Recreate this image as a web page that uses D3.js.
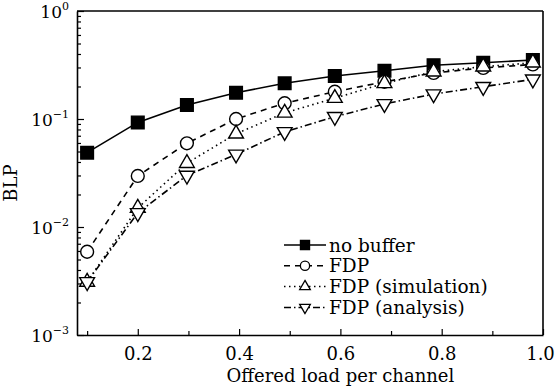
<!DOCTYPE html>
<html>
<head>
<meta charset="utf-8">
<script src="https://cdn.jsdelivr.net/npm/d3@7"></script>
<style>
  body { margin: 0; background: #fff; }
  text { font-family: "DejaVu Serif", serif; fill: #000; }
</style>
</head>
<body>
<div id="chart"></div>
<script>
// offered load per channel (x) and BLP values
var loadX = [0.1, 0.2, 0.297, 0.394, 0.49, 0.589, 0.687, 0.784, 0.882, 0.98];
var noBuffer = [0.0488, 0.093, 0.135, 0.175, 0.214, 0.25, 0.28, 0.315, 0.332, 0.352];
var fdp = [0.0059, 0.0297, 0.0596, 0.1, 0.14, 0.179, 0.221, 0.267, 0.297, 0.32];
var fdpSim = [0.0031, 0.015, 0.039, 0.073, 0.114, 0.156, 0.214, 0.274, 0.305, 0.332];
var fdpAna = [0.0031, 0.0135, 0.030, 0.047, 0.076, 0.105, 0.138, 0.17, 0.199, 0.233];

var xMajor = [0.2, 0.4, 0.6, 0.8, 1.0];
var xMinor = [0.1, 0.3, 0.5, 0.7, 0.9];
var yDecades = [1e-3, 1e-2, 1e-1, 1];
var yExp = ["\u22123", "\u22122", "\u22121", "0"];

var seriesNames = ["no buffer", "FDP", "FDP (simulation)", "FDP (analysis)"];

var series = [
  {name: seriesNames[0], values: noBuffer, dash: null, symbol: "square"},
  {name: seriesNames[1], values: fdp, dash: "6,5", symbol: "circle"},
  {name: seriesNames[2], values: fdpSim, dash: "1.5,3.5", symbol: "up"},
  {name: seriesNames[3], values: fdpAna, dash: "7,3,1.5,3", symbol: "down"}
];

var width = 556, height = 390;
var margin = {top: 11, right: 13, bottom: 55, left: 77};
var innerW = width - margin.left - margin.right,
    innerH = height - margin.top - margin.bottom;

var svg = d3.select("#chart").append("svg")
    .attr("width", width)
    .attr("height", height)
  .append("g")
    .attr("transform", "translate(" + margin.left + "," + margin.top + ")");

var xScale = d3.scaleLinear().domain([0.08, 1.0]).range([0, innerW]);
var yScale = d3.scaleLog().domain([1e-3, 1]).range([innerH, 0]);

// marker shapes
function markerPath(type, big) {
  var s = big ? 1 : 0.72;
  if (type === "square") return d3.symbol(d3.symbolSquare, 160 * s * s)();
  if (type === "circle") return d3.symbol(d3.symbolCircle, 130 * s * s)();
  return d3.symbol(d3.symbolTriangle, 95 * s * s)();
}
function markerRot(type) { return type === "down" ? " rotate(180)" : ""; }

// x axis (ticks inside)
svg.append("g")
    .attr("transform", "translate(0," + innerH + ")")
    .call(d3.axisBottom(xScale).tickValues(xMinor).tickSize(-4).tickFormat(""))
    .call(function(g) { g.select(".domain").remove(); });
var xAxis = svg.append("g")
    .attr("transform", "translate(0," + innerH + ")")
    .call(d3.axisBottom(xScale).tickValues(xMajor).tickSize(-6).tickSizeOuter(0)
      .tickFormat(d3.format(".1f")).tickPadding(12));
xAxis.selectAll("text").style("font-family", "DejaVu Serif").attr("font-size", 18)
    .attr("dx", function(d) { return d === 1.0 ? -3 : 0; });

// y axis (ticks inside)
var yMinorVals = yScale.ticks().filter(function(d) { return yDecades.indexOf(d) < 0; });
svg.append("g")
    .call(d3.axisLeft(yScale).tickValues(yMinorVals).tickSize(-4).tickFormat(""))
    .call(function(g) { g.select(".domain").remove(); });
svg.append("g")
    .call(d3.axisLeft(yScale).tickValues(yDecades).tickSize(-7).tickSizeOuter(0).tickFormat(""));

svg.selectAll(".domain").attr("stroke-width", 1.6);
svg.selectAll(".tick line").attr("stroke-width", 1.2);

// y tick labels like 10^-1
var yLab = svg.append("g").selectAll("text")
    .data(yDecades)
  .enter().append("text")
    .attr("x", -8)
    .attr("y", function(d) { return yScale(d) + 7; })
    .attr("text-anchor", "end")
    .attr("font-size", 17);
yLab.append("tspan").text("10");
yLab.append("tspan").attr("dy", -8).attr("font-size", 11)
    .text(function(d, i) { return yExp[i]; });

// frame top and right
svg.append("line").attr("x1", 0).attr("x2", innerW).attr("y1", 0).attr("y2", 0)
    .attr("stroke", "#000").attr("stroke-width", 1.6);
svg.append("line").attr("x1", innerW).attr("x2", innerW).attr("y1", 0).attr("y2", innerH)
    .attr("stroke", "#000").attr("stroke-width", 1.6);

// axis titles
svg.append("text")
    .attr("x", xScale(0.6))
    .attr("y", innerH + 47)
    .attr("text-anchor", "middle")
    .attr("font-size", 18)
    .text("Offered load per channel");
svg.append("text")
    .attr("transform", "translate(" + (-60) + "," + (innerH / 2 + 10) + ") rotate(-90)")
    .attr("text-anchor", "middle")
    .attr("font-size", 18)
    .text("BLP");

// lines
var valueline = d3.line()
    .x(function(d, i) { return xScale(loadX[i]); })
    .y(function(d) { return yScale(d); });

series.forEach(function(s) {
  svg.append("path")
      .attr("d", valueline(s.values))
      .attr("fill", "none")
      .attr("stroke", "#000")
      .attr("stroke-width", 1.6)
      .attr("stroke-dasharray", s.dash);
});

// markers, drawn after all lines
series.forEach(function(s) {
  svg.append("g").selectAll("path")
      .data(s.values)
    .enter().append("path")
      .attr("transform", function(d, i) {
        return "translate(" + xScale(loadX[i]) + "," + yScale(d) + ")" + markerRot(s.symbol);
      })
      .attr("d", markerPath(s.symbol, true))
      .attr("fill", s.symbol === "square" ? "#000" : "#fff")
      .attr("stroke", "#000")
      .attr("stroke-width", 1.4);
});

// legend
var legend = svg.append("g")
    .attr("transform", "translate(" + (284 - margin.left) + "," + (245 - margin.top) + ")");
var rows = legend.selectAll("g")
    .data(series)
  .enter().append("g")
    .attr("transform", function(d, i) { return "translate(0," + (i * 20.8) + ")"; });
rows.append("line")
    .attr("x1", 0).attr("x2", 42).attr("y1", 0).attr("y2", 0)
    .attr("stroke", "#000")
    .attr("stroke-width", 1.5)
    .attr("stroke-dasharray", function(d) { return d.dash; });
rows.append("path")
    .attr("transform", function(d) { return "translate(21,0)" + markerRot(d.symbol); })
    .attr("d", function(d) { return markerPath(d.symbol, false); })
    .attr("fill", function(d) { return d.symbol === "square" ? "#000" : "#fff"; })
    .attr("stroke", "#000")
    .attr("stroke-width", 1.3);
rows.append("text")
    .attr("x", 45)
    .attr("y", 6.5)
    .attr("font-size", 18.5)
    .text(function(d) { return d.name; });
</script>
</body>
</html>
